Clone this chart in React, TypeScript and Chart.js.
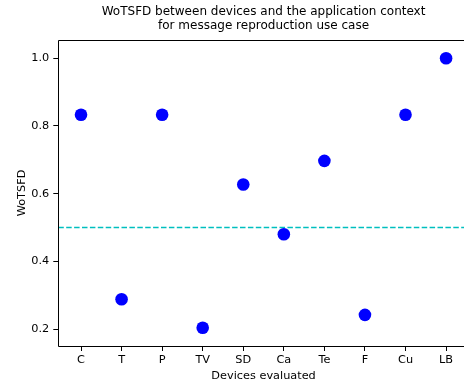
import React, { useEffect, useRef } from "react";
import { Chart, registerables } from "chart.js";

Chart.register(...registerables);

const categories = ["C", "T", "P", "TV", "SD", "Ca", "Te", "F", "Cu", "LB"];
const wotsfd = [0.833, 0.288, 0.833, 0.204, 0.627, 0.48, 0.697, 0.242, 0.833, 1.0];
const yTicks = [0.2, 0.4, 0.6, 0.8, 1.0];
const threshold = 0.5;
const titleLines = ["WoTSFD between devices and the application context", "for message reproduction use case"];
const xTitle = "Devices evaluated";
const yTitle = "WoTSFD";

const FONT = "'DejaVu Sans', sans-serif";
const SMALL = 11.3;

const overlayPlugin = {
  id: "overlay",
  beforeDatasetsDraw(chart: any) {
    const { ctx, chartArea } = chart;
    const y = chart.scales.y.getPixelForValue(threshold);
    ctx.save();
    ctx.beginPath();
    ctx.rect(chartArea.left, chartArea.top, chartArea.right - chartArea.left, chartArea.bottom - chartArea.top);
    ctx.clip();
    ctx.strokeStyle = "#00bfbf";
    ctx.lineWidth = 1.5;
    ctx.setLineDash([5.5, 2.4]);
    ctx.beginPath();
    ctx.moveTo(chartArea.left, y);
    ctx.lineTo(chartArea.right, y);
    ctx.stroke();
    ctx.restore();
  },
  afterDraw(chart: any) {
    const { ctx, chartArea } = chart;
    ctx.save();
    ctx.strokeStyle = "#000";
    ctx.lineWidth = 1;
    const l = Math.round(chartArea.left) + 0.5;
    const t = Math.round(chartArea.top) + 0.5;
    const b = Math.round(chartArea.bottom) + 0.5;
    const r = chartArea.right;
    ctx.beginPath();
    ctx.moveTo(r, t);
    ctx.lineTo(l, t);
    ctx.lineTo(l, b);
    ctx.lineTo(r, b);
    ctx.lineTo(r, t);
    ctx.stroke();
    const cx = (chartArea.left + chartArea.right) / 2;
    ctx.fillStyle = "#000";
    ctx.textAlign = "center";
    ctx.textBaseline = "alphabetic";
    ctx.font = `12px ${FONT}`;
    ctx.fillText(titleLines[0], cx, 14.8);
    ctx.fillText(titleLines[1], cx, 29.2);
    ctx.font = `${SMALL}px ${FONT}`;
    ctx.fillText(xTitle, cx, 378.5);
    const cy = (chartArea.top + chartArea.bottom) / 2;
    ctx.translate(25, cy);
    ctx.rotate(-Math.PI / 2);
    ctx.fillText(yTitle, 0, 0);
    ctx.restore();
  },
};

export default function App() {
  const ref = useRef<HTMLCanvasElement | null>(null);
  useEffect(() => {
    if (!ref.current) return;
    document.body.style.overflow = "hidden";
    document.body.style.margin = "0";
    const chart = new Chart(ref.current, {
      type: "scatter",
      data: {
        datasets: [
          {
            data: wotsfd.map((v, i) => ({ x: i, y: v })),
            backgroundColor: "#0000ff",
            borderColor: "#0000ff",
            pointRadius: 6.3,
            pointHoverRadius: 6.3,
            borderWidth: 0,
          },
        ],
      },
      options: {
        animation: false,
        responsive: false,
        events: [],
        layout: { padding: { top: 40, right: 15.2, left: 0, bottom: 0 } },
        plugins: { legend: { display: false }, tooltip: { enabled: false }, title: { display: false } },
        scales: {
          x: {
            type: "linear",
            min: -0.56,
            max: 9.56,
            afterBuildTicks: (axis: any) => {
              axis.ticks = categories.map((_, i) => ({ value: i }));
            },
            afterFit: (axis: any) => {
              axis.height = 43;
            },
            border: { display: false },
            grid: { display: true, drawOnChartArea: false, drawTicks: true, tickLength: 5, color: "#000", tickColor: "#000" },
            ticks: {
              padding: 2,
              color: "#000",
              font: { family: FONT, size: SMALL },
              maxRotation: 0,
              autoSkip: false,
              callback: (v: any) => categories[Math.round(v)] ?? "",
            },
          },
          y: {
            type: "linear",
            min: 0.15,
            max: 1.054,
            afterBuildTicks: (axis: any) => {
              axis.ticks = yTicks.map((v) => ({ value: v }));
            },
            afterFit: (axis: any) => {
              axis.width = 58.3;
            },
            border: { display: false },
            grid: { display: true, drawOnChartArea: false, drawTicks: true, tickLength: 5, color: "#000", tickColor: "#000" },
            ticks: {
              padding: 4,
              color: "#000",
              font: { family: FONT, size: SMALL },
              autoSkip: false,
              callback: (v: any) => Number(v).toFixed(1),
            },
          },
        },
      },
      plugins: [overlayPlugin],
    });
    return () => chart.destroy();
  }, []);
  return (
    <div style={{ position: "fixed", left: 0, top: 0, width: 464, height: 389, overflow: "hidden", background: "#fff" }}>
      <canvas ref={ref} width={484} height={389} style={{ display: "block", width: 484, height: 389 }} />
    </div>
  );
}
